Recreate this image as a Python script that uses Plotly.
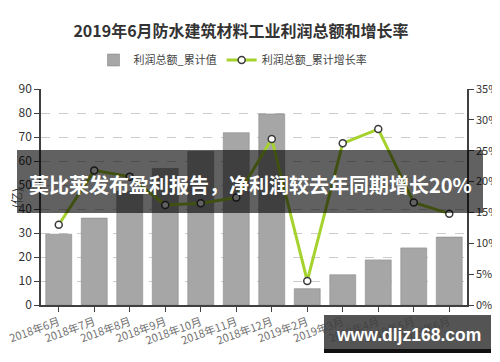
import plotly.graph_objects as go

categories = ["2018年6月", "2018年7月", "2018年8月", "2018年9月", "2018年10月", "2018年11月",
              "2018年12月", "2019年2月", "2019年3月", "2019年4月", "2019年5月", "2019年6月"]
profit_total = [29.5, 36.2, 47.4, 56.9, 64.0, 71.8, 79.6, 6.8, 12.6, 18.8, 23.8, 28.3]
growth_rate = [13.0, 21.8, 20.8, 16.2, 16.5, 17.4, 26.9, 3.9, 26.2, 28.5, 16.6, 14.8]

# page body has an 8px margin; work in window pixels and convert
OFF = 8
W, H = 500 - OFF, 362 - OFF
L, R, T, B = 41, 467, 89, 305  # plot area in window pixels

def px(x):
    return (x - L) / (R - L)

def py(y):
    return (B - y) / (B - T)

fig = go.Figure()
fig.add_trace(go.Bar(
    x=categories, y=profit_total, name="利润总额_累计值",
    marker=dict(color="#a6a6a6", line=dict(color="#8a8a8a", width=0.6)),
    width=0.73, yaxis="y",
))
fig.add_trace(go.Scatter(
    x=categories, y=growth_rate, name="利润总额_累计增长率", yaxis="y2",
    mode="lines+markers",
    line=dict(color="#a5d22c", width=3),
    marker=dict(symbol="circle", size=7, color="white", line=dict(color="#3a3a3a", width=1.5)),
))

font_family = "Noto Sans CJK SC, Liberation Sans, sans-serif"

fig.update_layout(
    width=W, height=H,
    margin=dict(l=L - OFF, r=W - (R - OFF), t=T - OFF, b=H - (B - OFF), pad=0),
    paper_bgcolor="white", plot_bgcolor="white",
    font=dict(family=font_family, color="#333333", size=11),
    title=dict(text="<b>2019年6月防水建筑材料工业利润总额和增长率</b>",
               x=(241 - OFF) / W, xanchor="center", y=1 - (31 - OFF) / H, yanchor="middle",
               font=dict(size=16, color="#333333", family=font_family)),
    showlegend=True,
    legend=dict(orientation="h", x=px(233), xanchor="center", y=py(60), yanchor="middle",
                font=dict(size=11, color="#444444"), bgcolor="rgba(0,0,0,0)",
                itemwidth=30, traceorder="normal"),
    bargap=0.27,
    xaxis=dict(
        type="category", showgrid=False, showline=True, linecolor="#404040", linewidth=1.5,
        ticks="outside", ticklen=5, tickcolor="#404040", tickangle=-20, automargin=False,
        tickfont=dict(size=11, color="#707070"), range=[-0.5, 11.5],
    ),
    yaxis=dict(
        range=[0, 90], dtick=10, showgrid=True, gridcolor="#cccccc", griddash="dash",
        gridwidth=1, showline=True, linecolor="#404040", linewidth=1.5, automargin=False,
        ticks="outside", ticklen=5, tickcolor="#404040", zeroline=False,
        tickfont=dict(size=12, color="#333333"),
    ),
    yaxis2=dict(
        range=[0, 35], dtick=5, ticksuffix="%", overlaying="y", side="right",
        showgrid=False, showline=True, linecolor="#404040", linewidth=1.5, automargin=False,
        ticks="outside", ticklen=5, tickcolor="#404040", zeroline=False,
        tickfont=dict(size=11, color="#333333"),
    ),
)

fig.add_annotation(text="(亿)", xref="paper", yref="paper", x=px(16), y=py(198),
                   xanchor="center", yanchor="middle",
                   showarrow=False, textangle=-90, font=dict(size=12, color="#333333"))

# overlay banner
fig.add_shape(type="rect", xref="paper", yref="paper",
              x0=px(17), x1=px(483), y0=py(213), y1=py(150),
              fillcolor="rgba(0,0,0,0.62)", line=dict(width=0), layer="above")
fig.add_annotation(text="<b>莫比莱发布盈利报告，净利润较去年同期增长20%</b>",
                   xref="paper", yref="paper", x=px(250), y=py(184),
                   xanchor="center", yanchor="middle",
                   showarrow=False, font=dict(size=20, color="white", family=font_family))

# watermark box
fig.add_shape(type="rect", xref="paper", yref="paper",
              x0=px(324), x1=px(491), y0=py(349), y1=py(315),
              fillcolor="rgba(60,60,60,0.88)", line=dict(width=0), layer="above")
fig.add_shape(type="rect", xref="paper", yref="paper",
              x0=px(324), x1=px(491), y0=py(353), y1=py(349),
              fillcolor="#111111", line=dict(width=0), layer="above")
fig.add_annotation(text="<b>www.dljz168.com</b>", xref="paper", yref="paper",
                   x=px(408), y=py(335), xanchor="center", yanchor="middle", showarrow=False,
                   font=dict(size=17.5, color="white", family="Liberation Sans, sans-serif"))

fig.write_html("out.html")
